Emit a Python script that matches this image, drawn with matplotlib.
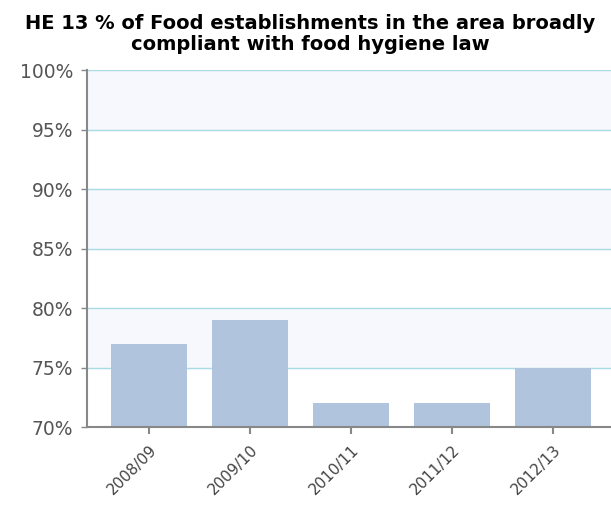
import numpy as np
import matplotlib.pyplot as plt
import matplotlib.transforms as mtransforms
from matplotlib.ticker import PercentFormatter

years = ["2008/09", "2009/10", "2010/11", "2011/12", "2012/13"]
compliant_pct = [77, 79, 72, 72, 75]
y_ticks = [70, 75, 80, 85, 90, 95, 100]

fig = plt.figure(figsize=(6.11, 5.08), dpi=100)
ax = fig.add_axes([0.1424, 0.1594, 0.8576, 0.7026])

# alternating background bands
for lo in range(70, 100, 5):
    if (lo // 5) % 2 == 1:
        ax.axhspan(lo, lo + 5, color="#f7f8fd", zorder=0)

ax.set_ylim(70, 100)
ax.set_yticks(y_ticks)
ax.yaxis.set_major_formatter(PercentFormatter(decimals=0))
ax.grid(axis="y", color="#a8dbe3", linewidth=1, zorder=1)

x = np.arange(len(years))
ax.bar(x, [v - 70 for v in compliant_pct], bottom=70, width=0.75,
       color="#b0c4de", zorder=2)
ax.set_xlim(-0.614, 4.574)
ax.set_xticks(x)
ax.set_xticklabels(years, rotation=45, ha="right", rotation_mode="anchor",
                   fontsize=11, color="#444444")
# nudge rotated labels a little to the right, like the original
shift = mtransforms.ScaledTranslation(3 / 72, 0, fig.dpi_scale_trans)
for lbl in ax.get_xticklabels():
    lbl.set_transform(lbl.get_transform() + shift)

for s in ["top", "right"]:
    ax.spines[s].set_visible(False)
for s in ["left", "bottom"]:
    ax.spines[s].set_color("#888888")
    ax.spines[s].set_linewidth(1.5)
ax.tick_params(axis="y", labelsize=13.5, labelcolor="#555555", color="#888888",
               length=4, width=1, pad=6)
ax.tick_params(axis="x", color="#888888", length=5, width=1.5, pad=6)

fig.text(0.508, 0.972,
         "HE 13 % of Food establishments in the area broadly\ncompliant with food hygiene law",
         fontsize=14, fontweight="bold", ha="center", va="top", linespacing=1.1)

fig.savefig("out.png", dpi=100)
